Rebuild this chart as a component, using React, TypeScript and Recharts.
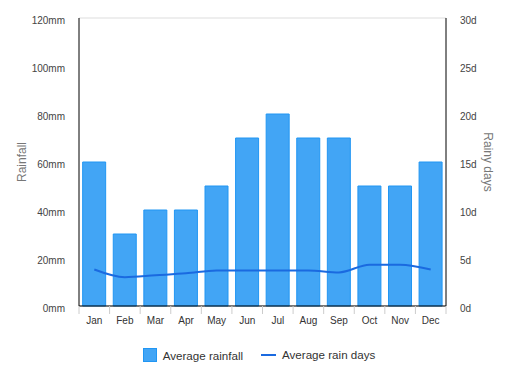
import { ComposedChart, Bar, Line, XAxis, YAxis, CartesianGrid, Legend } from 'recharts';

const months = ['Jan', 'Feb', 'Mar', 'Apr', 'May', 'Jun', 'Jul', 'Aug', 'Sep', 'Oct', 'Nov', 'Dec'];
const rainfall = [60, 30, 40, 40, 50, 70, 80, 70, 70, 50, 50, 60];
const rainDays = [3.8, 3.0, 3.2, 3.4, 3.7, 3.7, 3.7, 3.7, 3.5, 4.3, 4.3, 3.8];
const rainfallTicks = [0, 20, 40, 60, 80, 100, 120];
const dayTicks = [0, 5, 10, 15, 20, 25, 30];

const data = months.map((m, i) => ({ month: m, rainfall: rainfall[i], days: rainDays[i] }));

const FONT = 'Arial, "Liberation Sans", sans-serif';
const CHART_W = 512;
const CHART_H = 381;
const PLOT_LEFT = 79;
const PLOT_RIGHT = 446;
const BAND = (PLOT_RIGHT - PLOT_LEFT) / months.length;
const BAR_COLOR = '#42a5f5';
const LINE_COLOR = '#1a6ae0';

// month label plus tick marks at the category edges
function MonthTick(props: any) {
  const { x, y, payload, index } = props;
  const left = x - BAND / 2;
  return (
    <g>
      <line x1={left} y1={y - 8} x2={left} y2={y} stroke="#ccc" />
      {index === months.length - 1 && (
        <line x1={x + BAND / 2} y1={y - 8} x2={x + BAND / 2} y2={y} stroke="#ccc" />
      )}
      <text x={x} y={y + 10} textAnchor="middle" fontSize={10} fill="#333" fontFamily={FONT}>
        {payload.value}
      </text>
    </g>
  );
}

function AxisTitle({ viewBox, title, posX, rot }: any) {
  const cy = viewBox.y + viewBox.height / 2;
  return (
    <text
      x={posX}
      y={cy}
      transform={`rotate(${rot} ${posX} ${cy})`}
      textAnchor="middle"
      dominantBaseline="central"
      fontSize={12}
      fill="#777"
      fontFamily={FONT}
    >
      {title}
    </text>
  );
}

function ChartLegend() {
  return (
    <div
      style={{
        height: 43,
        display: 'flex',
        justifyContent: 'center',
        alignItems: 'flex-start',
        paddingTop: 10,
        paddingLeft: 6,
        boxSizing: 'border-box',
        fontFamily: FONT,
        fontSize: 11.6,
        color: '#333',
      }}
    >
      <span style={{ display: 'flex', alignItems: 'center', marginRight: 18 }}>
        <span
          style={{
            width: 12,
            height: 12,
            background: BAR_COLOR,
            border: '1px solid #2196f3',
            marginRight: 6,
          }}
        />
        Average rainfall
      </span>
      <span style={{ display: 'flex', alignItems: 'center' }}>
        <span style={{ width: 15, height: 2, background: LINE_COLOR, marginRight: 6 }} />
        Average rain days
      </span>
    </div>
  );
}

export default function App() {
  return (
    <div style={{ position: 'absolute', left: 0, top: 0, background: '#fff' }}>
      <ComposedChart
        width={CHART_W}
        height={CHART_H}
        data={data}
        margin={{ top: 18, right: 0, bottom: 0, left: 0 }}
        barCategoryGap="12%"
      >
        <CartesianGrid vertical={false} stroke="#ddd" />
        <XAxis
          dataKey="month"
          stroke="#000"
          tickLine={false}
          tick={<MonthTick />}
          height={32}
          interval={0}
        />
        <YAxis
          yAxisId="mm"
          width={PLOT_LEFT}
          domain={[0, 120]}
          ticks={rainfallTicks}
          tickFormatter={(v) => `${v}mm`}
          stroke="#000"
          tickLine={false}
          tickMargin={8}
          tick={{ fontSize: 10, fill: '#444', fontFamily: FONT, dy: 2 }}
          label={<AxisTitle title="Rainfall" posX={22} rot={-90} />}
        />
        <YAxis
          yAxisId="d"
          orientation="right"
          width={CHART_W - PLOT_RIGHT}
          domain={[0, 30]}
          ticks={dayTicks}
          tickFormatter={(v) => `${v}d`}
          stroke="#000"
          tickLine={false}
          tickMargin={8}
          tick={{ fontSize: 10, fill: '#444', fontFamily: FONT, dy: 2 }}
          label={<AxisTitle title="Rainy days" posX={488} rot={90} />}
        />
        <Legend verticalAlign="bottom" height={43} content={<ChartLegend />} />
        <Bar
          yAxisId="mm"
          dataKey="rainfall"
          name="Average rainfall"
          fill={BAR_COLOR}
          stroke="#2196f3"
          isAnimationActive={false}
        />
        <Line
          yAxisId="d"
          dataKey="days"
          name="Average rain days"
          type="monotone"
          stroke={LINE_COLOR}
          strokeWidth={2}
          dot={false}
          isAnimationActive={false}
        />
      </ComposedChart>
    </div>
  );
}
